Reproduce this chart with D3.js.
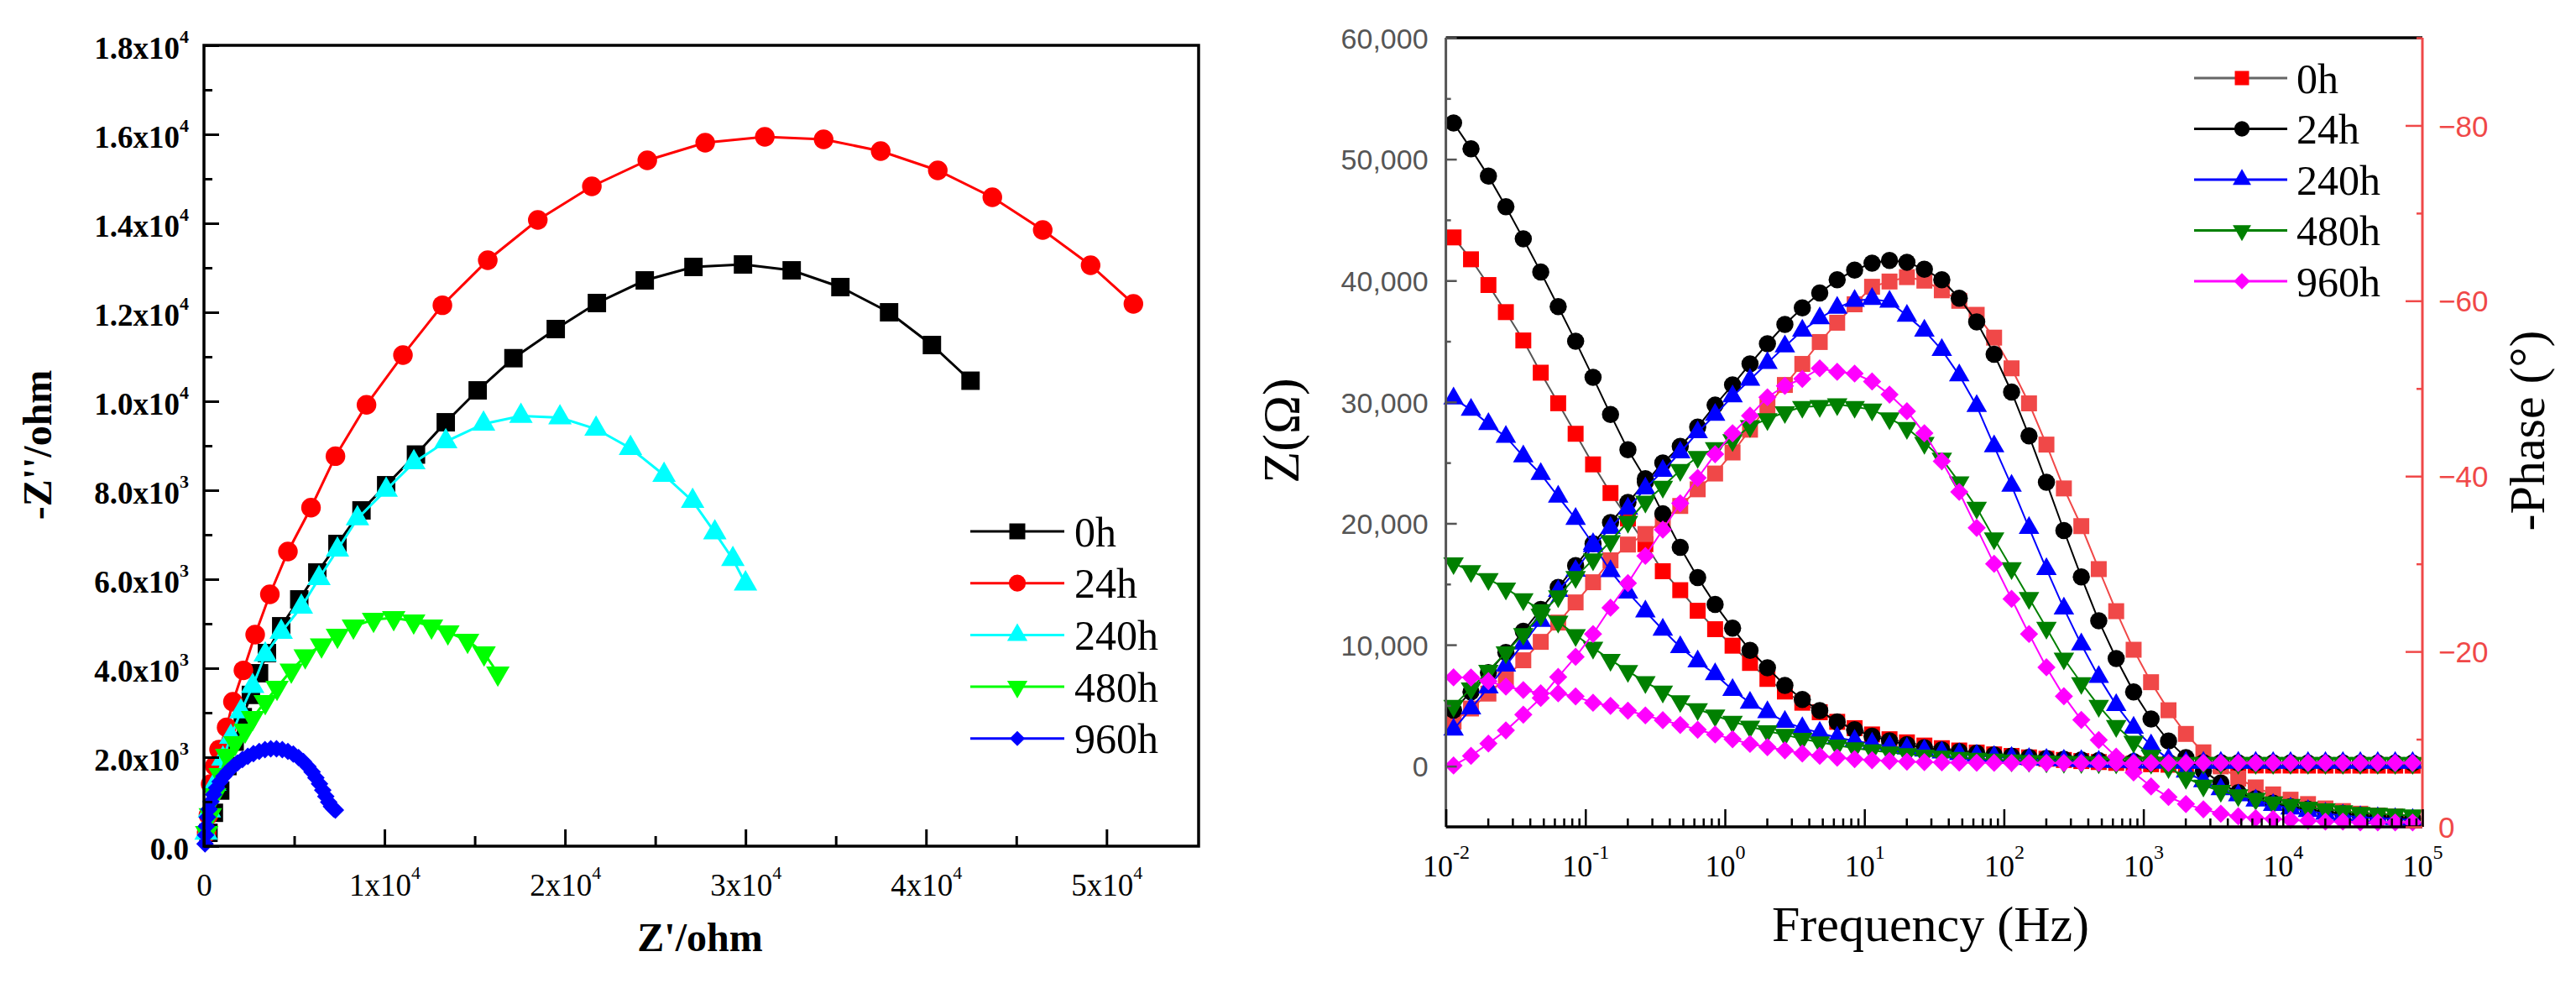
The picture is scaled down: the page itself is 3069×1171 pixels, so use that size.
<!doctype html>
<html>
<head>
  <meta charset="utf-8">
  <title>EIS Nyquist and Bode</title>
  <script src="https://d3js.org/d3.v7.min.js"></script>
  <style>
    body { margin: 0; background: #fff; }
    svg { display: block; }
  </style>
</head>
<body>
<svg id="chart" width="3069" height="1171"></svg>
<script>
// ---- data ----
var times = ["0h", "24h", "240h", "480h", "960h"];

// Nyquist plot, [Z', -Z''] in ohm
var nyq0h = [[250, 300], [550, 750], [900, 1250], [1300, 1800], [1700, 2350], [2150, 2900], [2600, 3400],
  [3051, 3887], [3488, 4340], [4279, 4943], [5279, 5547], [6279, 6151], [7395, 6792], [8726, 7547],
  [10093, 8113], [11744, 8802], [13395, 9528], [15163, 10245], [17144, 10968], [19488, 11623],
  [21767, 12208], [24419, 12717], [27116, 13019], [29860, 13075], [32558, 12943], [35256, 12566],
  [37953, 12000], [40326, 11264], [42465, 10462]];
var nyq24h = [[150, 300], [250, 700], [372, 1396], [600, 1800], [837, 2170], [1256, 2670], [1605, 3245],
  [2186, 3951], [2837, 4755], [3651, 5660], [4651, 6623], [5930, 7609], [7284, 8766], [9004, 9921],
  [11023, 11039], [13209, 12158], [15721, 13170], [18493, 14075], [21488, 14830], [24558, 15415],
  [27767, 15811], [31070, 15943], [34326, 15887], [37488, 15623], [40651, 15189], [43674, 14585],
  [46465, 13849], [49116, 13057], [51488, 12189]];
var nyq240h = [[120, 300], [300, 800], [600, 1400], [1051, 1962], [1488, 2453], [2047, 3026], [2698, 3594],
  [3395, 4302], [4279, 4811], [5395, 5377], [6372, 6019], [7395, 6660], [8503, 7364], [10093, 8008],
  [11628, 8623], [13395, 9094], [15488, 9491], [17558, 9668], [19721, 9632], [21721, 9377],
  [23628, 8943], [25488, 8340], [27070, 7755], [28300, 7050], [29300, 6450], [30000, 5900]];
var nyq480h = [[150, 300], [350, 700], [600, 1150], [900, 1600], [1256, 2038], [1721, 2321], [2279, 2604],
  [2698, 2887], [3395, 3245], [4047, 3566], [4837, 3951], [5609, 4270], [6512, 4519], [7395, 4736],
  [8279, 4943], [9395, 5094], [10512, 5132], [11619, 5057], [12605, 4943], [13512, 4811],
  [14605, 4623], [15516, 4340], [16279, 3887]];
var nyq960h = [[60, 50], [90, 250], [130, 450], [190, 650], [280, 830], [390, 1000], [530, 1160], [700, 1310],
  [890, 1450], [1100, 1570], [1330, 1680], [1580, 1780], [1850, 1870], [2130, 1950], [2430, 2020],
  [2740, 2080], [3060, 2130], [3380, 2170], [3700, 2190], [4020, 2190], [4340, 2170], [4650, 2130],
  [4950, 2070], [5240, 1990], [5510, 1900], [5760, 1790], [5990, 1670], [6200, 1540], [6400, 1400],
  [6580, 1260], [6750, 1120], [6910, 990], [7060, 890], [7180, 840], [7280, 810]];

var nyqXTicks = [0, 10000, 20000, 30000, 40000, 50000];
var nyqXTickBase = ["0", "1x10", "2x10", "3x10", "4x10", "5x10"];
var nyqXTickExp = ["", "4", "4", "4", "4", "4"];
var nyqYTicks = [0, 2000, 4000, 6000, 8000, 10000, 12000, 14000, 16000, 18000];
var nyqYTickBase = ["0.0", "2.0x10", "4.0x10", "6.0x10", "8.0x10", "1.0x10", "1.2x10", "1.4x10", "1.6x10", "1.8x10"];
var nyqYTickExp = ["", "3", "3", "3", "3", "4", "4", "4", "4", "4"];

// Bode plot: frequency (Hz), |Z| (ohm) and -phase (deg)
var freq = [0.01135, 0.01514, 0.02018, 0.02692, 0.03589, 0.04786, 0.06383, 0.08511,
  0.1135, 0.1514, 0.2018, 0.2692, 0.3589, 0.4786, 0.6383, 0.8511,
  1.135, 1.514, 2.018, 2.692, 3.589, 4.786, 6.383, 8.511,
  11.35, 15.14, 20.18, 26.92, 35.89, 47.86, 63.83, 85.11,
  113.5, 151.4, 201.8, 269.2, 358.9, 478.6, 638.3, 851.1,
  1135, 1514, 2018, 2692, 3589, 4786, 6383, 8511,
  11350, 15140, 20180, 26920, 35890, 47860, 63830, 85110];

var z0h = [43555, 41753, 39633, 37401, 35066, 32412, 29896, 27380, 24858, 22500, 20400, 18288, 16057, 14497,
  12800, 11282, 9924, 8503, 7187, 6147, 5225, 4442, 3652, 3132, 2613, 2218, 1961, 1698, 1480, 1290,
  1120, 970, 840, 720, 610, 510, 420, 340, 270, 210, 160, 120, 95, 80, 70, 62, 57, 53, 50, 48, 47, 46,
  45, 45, 44, 44];
var z24h = [52973, 50849, 48600, 46081, 43437, 40700, 37859, 34997, 32025, 28977, 26058, 23680, 20800, 18025,
  15544, 13320, 11365, 9543, 8101, 6660, 5489, 4574, 3652, 3001, 2474, 2093, 1781, 1518, 1350, 1200,
  1060, 930, 820, 720, 640, 570, 510, 460, 420, 385, 355, 330, 312, 298, 287, 279, 273, 268, 265, 263,
  261, 260, 259, 258, 258, 257];
var z240h = [30291, 29362, 28184, 27124, 25523, 24061, 22200, 20374, 18288, 16057, 14300, 12750, 11233, 9799,
  8621, 7575, 6272, 5225, 4442, 3652, 3132, 2751, 2349, 2093, 1850, 1640, 1450, 1280, 1130, 990, 870,
  760, 670, 590, 520, 460, 410, 370, 340, 315, 300, 290, 283, 278, 275, 273, 272, 271, 270, 270, 270,
  270, 270, 270, 270, 270];
var z480h = [16715, 16064, 15412, 14629, 13750, 12850, 11900, 10800, 9750, 8753, 7838, 6923, 6140, 5357,
  4699, 4179, 3659, 3264, 2876, 2580, 2250, 1961, 1698, 1480, 1300, 1140, 1000, 880, 780, 690, 610,
  540, 480, 430, 390, 360, 335, 315, 300, 290, 282, 276, 272, 269, 267, 266, 265, 265, 265, 265, 265,
  265, 265, 265, 265, 265];
var z960h = [7311, 7300, 7000, 6550, 6270, 6000, 6000, 5750, 5225, 4969, 4575, 4179, 3790, 3396, 3000,
  2613, 2218, 1830, 1566, 1304, 1046, 850, 700, 580, 490, 420, 370, 335, 310, 295, 285, 278, 273, 270,
  268, 266, 265, 265, 265, 265, 265, 265, 265, 265, 265, 265, 265, 265, 265, 265, 265, 265, 265, 265,
  265, 265];

var ph0h = [12.0, 13.5, 15.2, 17.0, 19.0, 21.1, 23.3, 25.6, 27.9, 30.4, 32.2, 33.4, 35.0, 36.6, 38.5, 40.3,
  42.7, 45.3, 48.0, 50.4, 52.8, 55.3, 57.5, 59.6, 61.6, 62.2, 62.7, 62.3, 61.2, 60.0, 58.4, 55.8, 52.3,
  48.3, 43.6, 38.6, 34.3, 29.4, 24.6, 20.2, 16.5, 13.3, 10.6, 8.5, 6.9, 5.5, 4.5, 3.7, 3.1, 2.6, 2.1,
  1.8, 1.5, 1.3, 1.2, 1.0];
var ph24h = [13.3, 15.4, 17.6, 19.9, 22.3, 24.8, 27.3, 29.8, 32.3, 34.7, 37.0, 39.3, 41.5, 43.4, 45.6, 48.1,
  50.4, 52.8, 55.1, 57.3, 59.2, 60.9, 62.4, 63.5, 64.3, 64.6, 64.4, 63.6, 62.4, 60.3, 57.6, 53.9, 49.6,
  44.6, 39.3, 33.8, 28.5, 23.5, 19.2, 15.4, 12.3, 9.8, 7.9, 6.4, 5.0, 3.9, 3.2, 2.7, 2.3, 2.0, 1.7,
  1.5, 1.3, 1.1, 1.0, 0.9];
var ph240h = [11.1, 13.5, 15.9, 18.4, 20.9, 23.5, 26.9, 29.2, 32.0, 34.1, 36.3, 38.6, 40.6, 42.7, 45.0, 47.0,
  49.1, 51.0, 52.9, 54.8, 56.6, 58.0, 59.2, 60.0, 60.2, 59.9, 58.3, 56.6, 54.4, 51.5, 48.0, 43.4, 38.9,
  34.1, 29.4, 24.9, 20.8, 17.1, 13.9, 11.3, 9.3, 7.7, 6.3, 5.2, 4.3, 3.6, 3.0, 2.5, 2.1, 1.8, 1.5, 1.3,
  1.1, 1.0, 0.9, 0.8];
var ph480h = [13.8, 15.8, 17.8, 19.9, 22.0, 24.2, 26.3, 28.5, 30.5, 32.6, 34.8, 37.1, 38.8, 40.7, 42.2, 43.2,
  44.1, 45.7, 46.5, 47.3, 47.9, 48.0, 48.2, 47.9, 47.6, 46.6, 45.5, 43.8, 42.0, 39.3, 36.4, 32.9, 29.5,
  26.1, 22.7, 19.2, 16.4, 13.8, 11.5, 9.7, 8.1, 6.8, 5.6, 4.7, 4.1, 3.6, 3.2, 2.8, 2.5, 2.2, 2.0, 1.8,
  1.6, 1.5, 1.4, 1.3];
var ph960h = [7.0, 8.1, 9.5, 11.0, 12.8, 14.7, 17.1, 19.4, 22.0, 25.0, 27.8, 30.9, 33.9, 36.9, 39.8, 42.5,
  44.9, 46.9, 49.0, 50.3, 51.1, 52.3, 51.9, 51.7, 50.8, 49.3, 47.4, 44.9, 41.7, 38.2, 34.1, 30.0, 26.0,
  22.0, 18.2, 14.9, 12.2, 9.9, 8.0, 6.2, 4.6, 3.4, 2.6, 2.0, 1.5, 1.2, 1.0, 0.9, 0.8, 0.7, 0.6, 0.6,
  0.5, 0.5, 0.5, 0.5];

var bodeXTicks = [0.01, 0.1, 1, 10, 100, 1000, 10000, 100000];
var bodeXTickExp = ["-2", "-1", "0", "1", "2", "3", "4", "5"];
var bodeZTicks = [0, 10000, 20000, 30000, 40000, 50000, 60000];
var bodePhaseTicks = [0, 20, 40, 60, 80];

// ---- drawing ----
var serif = "'Liberation Serif','Times New Roman',serif";
var sans = "'Liberation Sans',Arial,sans-serif";
var svg = d3.select("#chart");

function addMarkers(g, pts, sym, size, rot, fill) {
  g.selectAll(null).data(pts).enter().append("path")
    .attr("transform", function(d) { return "translate(" + d[0] + "," + d[1] + ")" + (rot ? " rotate(" + rot + ")" : ""); })
    .attr("d", d3.symbol(sym, size))
    .attr("fill", fill);
}

function addLine(g, pts, color, w) {
  g.append("path").datum(pts)
    .attr("d", d3.line())
    .attr("fill", "none")
    .attr("stroke", color)
    .attr("stroke-width", w);
}

function supLabels(sel, base, exp, supFs, supDy) {
  sel.each(function(d, i) {
    var t = d3.select(this);
    t.text(null);
    t.append("tspan").text(base[i]);
    if (exp[i]) t.append("tspan").attr("dy", supDy).attr("font-size", supFs).text(exp[i]);
  });
}

// ===== Left: Nyquist =====
var xN = d3.scaleLinear().domain([0, 55100]).range([243, 1428]);
var yN = d3.scaleLinear().domain([0, 18000]).range([1008, 54]);

var nyqStyle = [
  { data: nyq0h, color: "#000000", sym: d3.symbolSquare, size: 480, rot: 0 },
  { data: nyq24h, color: "#ff0000", sym: d3.symbolCircle, size: 430, rot: 0 },
  { data: nyq240h, color: "#00ffff", sym: d3.symbolTriangle, size: 340, rot: 0 },
  { data: nyq480h, color: "#00ff00", sym: d3.symbolTriangle, size: 340, rot: 180 },
  { data: nyq960h, color: "#0000ff", sym: d3.symbolDiamond2, size: 280, rot: 0 }
];

var gN = svg.append("g");
nyqStyle.forEach(function(s) {
  var pts = s.data.map(function(d) { return [xN(d[0]), yN(d[1])]; });
  addLine(gN, pts, s.color, 3);
  addMarkers(gN, pts, s.sym, s.size, s.rot, s.color);
});

// axes (ticks point inward)
var axNx = svg.append("g").attr("transform", "translate(0,1008)")
  .call(d3.axisBottom(xN).tickValues(nyqXTicks).tickSize(-20).tickSizeOuter(0).tickPadding(33));
axNx.append("g").call(d3.axisBottom(xN).tickValues([5000, 15000, 25000, 35000, 45000]).tickSize(-12).tickFormat(""));
var axNy = svg.append("g").attr("transform", "translate(243,0)")
  .call(d3.axisLeft(yN).tickValues(nyqYTicks).tickSize(-18).tickSizeOuter(0).tickPadding(18));
axNy.append("g").call(d3.axisLeft(yN).tickValues([1000, 3000, 5000, 7000, 9000, 11000, 13000, 15000, 17000]).tickSize(-10).tickFormat(""));
[axNx, axNy].forEach(function(a) {
  a.selectAll(".domain").remove();
  a.selectAll(".tick line").attr("stroke", "#000").attr("stroke-width", 3);
});
axNx.selectAll(".tick text").attr("font-family", serif).attr("font-size", 37).attr("fill", "#000");
supLabels(axNx.selectAll(":scope > .tick text"), nyqXTickBase, nyqXTickExp, 22, -20);
axNy.selectAll(".tick text").attr("font-family", serif).attr("font-size", 37).attr("font-weight", "bold")
  .attr("fill", "#000").attr("dy", "0.42em");
supLabels(axNy.selectAll(":scope > .tick text"), nyqYTickBase, nyqYTickExp, 22, -19);

svg.append("rect").attr("x", 243).attr("y", 54).attr("width", 1185).attr("height", 954)
  .attr("fill", "none").attr("stroke", "#000").attr("stroke-width", 3.5);

svg.append("text").attr("x", 834).attr("y", 1133).attr("text-anchor", "middle")
  .attr("font-family", serif).attr("font-size", 48).attr("font-weight", "bold").text("Z'/ohm");
svg.append("text").attr("transform", "translate(61,530) rotate(-90)").attr("text-anchor", "middle")
  .attr("font-family", serif).attr("font-size", 48).attr("font-weight", "bold").text("-Z''/ohm");

// legend
var legN = svg.append("g");
nyqStyle.forEach(function(s, i) {
  var y = 633 + i * 61.7;
  legN.append("line").attr("x1", 1156).attr("x2", 1268).attr("y1", y).attr("y2", y)
    .attr("stroke", s.color).attr("stroke-width", 3);
  addMarkers(legN, [[1212, y]], s.sym, s.size * 0.75, s.rot, s.color);
  legN.append("text").attr("x", 1280).attr("y", y).attr("dy", "0.35em")
    .attr("font-family", serif).attr("font-size", 50).text(times[i]);
});

// ===== Right: Bode =====
var xF = d3.scaleLog().domain([0.01, 100000]).range([1722.6, 2886]);
var yZ = d3.scaleLinear().domain([-5000, 60000]).range([985, 45]);
var yP = d3.scaleLinear().domain([0, 90]).range([985, 45]);
var phRed = "#f04848";

var bodeStyle = [
  { z: z0h, ph: ph0h, color: "#ff0000", zLine: "#555555", phColor: phRed, sym: d3.symbolSquare, size: 360, rot: 0 },
  { z: z24h, ph: ph24h, color: "#000000", zLine: "#000000", phColor: "#000000", sym: d3.symbolCircle, size: 330, rot: 0 },
  { z: z240h, ph: ph240h, color: "#0000ff", zLine: "#0000ff", phColor: "#0000ff", sym: d3.symbolTriangle, size: 260, rot: 0 },
  { z: z480h, ph: ph480h, color: "#008000", zLine: "#008000", phColor: "#008000", sym: d3.symbolTriangle, size: 260, rot: 180 },
  { z: z960h, ph: ph960h, color: "#ff00ff", zLine: "#ff00ff", phColor: "#ff00ff", sym: d3.symbolDiamond2, size: 300, rot: 0 }
];

var gB = svg.append("g");
bodeStyle.forEach(function(s) {
  var zp = freq.map(function(f, i) { return [xF(f), yZ(s.z[i])]; });
  var pp = freq.map(function(f, i) { return [xF(f), yP(s.ph[i])]; });
  addLine(gB, zp, s.zLine, 2);
  addMarkers(gB, zp, s.sym, s.size, s.rot, s.color);
  addLine(gB, pp, s.phColor, 2);
  addMarkers(gB, pp, s.sym, s.size, s.rot, s.phColor);
});

// frame lines
svg.append("line").attr("x1", 1722.6).attr("x2", 2886).attr("y1", 45).attr("y2", 45).attr("stroke", "#000").attr("stroke-width", 3.5);
svg.append("line").attr("x1", 1722.6).attr("x2", 2886).attr("y1", 985).attr("y2", 985).attr("stroke", "#000").attr("stroke-width", 3.5);
svg.append("line").attr("x1", 1722.6).attr("x2", 1722.6).attr("y1", 45).attr("y2", 985).attr("stroke", "#555").attr("stroke-width", 3);
svg.append("line").attr("x1", 2886).attr("x2", 2886).attr("y1", 45).attr("y2", 985).attr("stroke", phRed).attr("stroke-width", 3);

// bottom axis
var minorF = xF.ticks().filter(function(v) { return bodeXTicks.indexOf(v) < 0; });
var axFx = svg.append("g").attr("transform", "translate(0,985)")
  .call(d3.axisBottom(xF).tickValues(bodeXTicks).tickSize(-21).tickSizeOuter(0).tickPadding(33));
axFx.append("g").call(d3.axisBottom(xF).tickValues(minorF).tickSize(-10).tickFormat(""));
axFx.selectAll(".domain").remove();
axFx.selectAll(".tick line").attr("stroke", "#000").attr("stroke-width", 2.5);
axFx.selectAll(".tick text").attr("font-family", serif).attr("font-size", 36).attr("fill", "#000");
supLabels(axFx.selectAll(":scope > .tick text"), bodeXTicks.map(function() { return "10"; }), bodeXTickExp, 24, -21);

// left |Z| axis
var axZ = svg.append("g").attr("transform", "translate(1722.6,0)")
  .call(d3.axisLeft(yZ).tickValues(bodeZTicks).tickSize(-13).tickSizeOuter(0).tickPadding(21).tickFormat(d3.format(",")));
axZ.append("g").call(d3.axisLeft(yZ).tickValues([5000, 15000, 25000, 35000, 45000, 55000]).tickSize(-6).tickFormat(""));
axZ.selectAll(".domain").remove();
axZ.selectAll(".tick line").attr("stroke", "#555").attr("stroke-width", 2.5);
axZ.selectAll(".tick text").attr("font-family", sans).attr("font-size", 34).attr("fill", "#555").attr("dy", "0.36em");

// right phase axis
var axP = svg.append("g").attr("transform", "translate(2886,0)")
  .call(d3.axisRight(yP).tickValues(bodePhaseTicks).tickSize(-20).tickSizeOuter(0).tickPadding(19)
    .tickFormat(function(d) { return d === 0 ? "0" : "\u2212" + d; }));
axP.append("g").call(d3.axisRight(yP).tickValues([10, 30, 50, 70, 90]).tickSize(-7).tickFormat(""));
axP.selectAll(".domain").remove();
axP.selectAll(".tick line").attr("stroke", phRed).attr("stroke-width", 2.5);
axP.selectAll(".tick text").attr("font-family", sans).attr("font-size", 35).attr("fill", phRed).attr("dy", "0.36em");

// titles
svg.append("text").attr("x", 2300).attr("y", 1121).attr("text-anchor", "middle")
  .attr("font-family", serif).attr("font-size", 60).text("Frequency (Hz)");
svg.append("text").attr("transform", "translate(1547,513) rotate(-90)").attr("text-anchor", "middle")
  .attr("font-family", serif).attr("font-size", 62).text("Z(\u03a9)");
svg.append("text").attr("transform", "translate(3031,513) rotate(-90)").attr("text-anchor", "middle")
  .attr("font-family", serif).attr("font-size", 60).text("-Phase (\u00b0)");

// legend
var legB = svg.append("g");
bodeStyle.forEach(function(s, i) {
  var y = 93 + i * 60.5;
  legB.append("line").attr("x1", 2614).attr("x2", 2725).attr("y1", y).attr("y2", y)
    .attr("stroke", s.zLine === "#555555" ? "#666" : s.color).attr("stroke-width", 3);
  addMarkers(legB, [[2671, y]], s.sym, s.size * 0.8, s.rot, s.color);
  legB.append("text").attr("x", 2736).attr("y", y).attr("dy", "0.35em")
    .attr("font-family", serif).attr("font-size", 50).text(times[i]);
});
</script>
</body>
</html>
